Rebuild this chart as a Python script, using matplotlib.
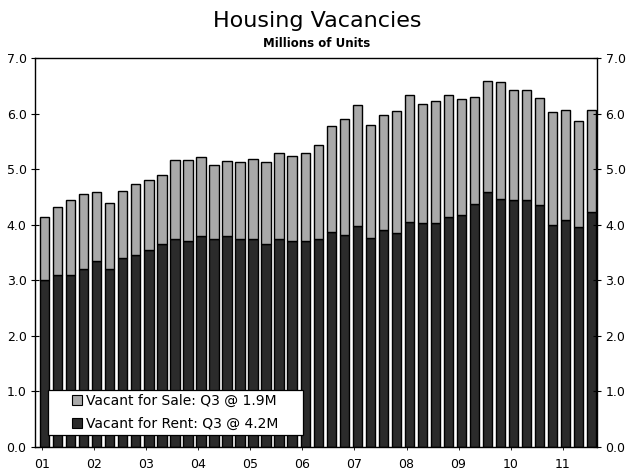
import numpy as np
import matplotlib
matplotlib.use("Agg")
import matplotlib.pyplot as plt
from matplotlib.patches import Patch, Rectangle

# quarterly, 2001 Q1 .. 2011 Q3 (millions of units)
years = ["01", "02", "03", "04", "05", "06", "07", "08", "09", "10", "11"]
rent = [3.00, 3.10, 3.10, 3.20, 3.35, 3.20, 3.40, 3.45, 3.55, 3.65, 3.75,
        3.70, 3.80, 3.75, 3.80, 3.75, 3.75, 3.65, 3.75, 3.70, 3.70, 3.75,
        3.87, 3.81, 3.97, 3.76, 3.90, 3.85, 4.05, 4.03, 4.03, 4.14, 4.17,
        4.38, 4.59, 4.47, 4.44, 4.44, 4.35, 3.99, 4.08, 3.96, 4.22]
sale = [1.14, 1.22, 1.35, 1.36, 1.24, 1.19, 1.20, 1.28, 1.25, 1.25, 1.41,
        1.46, 1.41, 1.32, 1.35, 1.38, 1.44, 1.48, 1.54, 1.53, 1.59, 1.68,
        1.90, 2.10, 2.19, 2.03, 2.07, 2.19, 2.29, 2.15, 2.19, 2.20, 2.09,
        1.91, 2.00, 2.10, 1.98, 1.98, 1.93, 2.04, 1.99, 1.90, 1.85]

plt.style.use('default')
fig = plt.figure(figsize=(6.34, 4.75), dpi=100)
ax = fig.add_axes([0.055, 0.059, 0.887, 0.819])

x = np.arange(len(rent))
ax.bar(x, rent, width=0.7, color="#2b2b2b", edgecolor="black", lw=1.0)
ax.bar(x, sale, bottom=rent, width=0.7, color="#a9a9a9", edgecolor="black", lw=1.0)

ax.set_xlim(-0.77, 42.46)
ax.set_ylim(0, 7)
yt = np.arange(0, 7.1, 1.0)
ax.set_yticks(yt)
ax.set_yticklabels(["%.1f" % v for v in yt])
ax.tick_params("y", which="major", direction="inout", length=6, width=0.8,
               labelsize=9, left=True, right=True, labelleft=True, labelright=True, pad=3)
ax.set_xticks([4 * i - 0.2 for i in range(len(years))])
ax.set_xticklabels(years)
ax.tick_params("x", which="major", direction="out", length=2, width=0.6, labelsize=9, pad=6)
for s in ax.spines.values():
    s.set_linewidth(1.0)

fig.text(0.5, 0.956, "Housing Vacancies", ha="center", va="center", fontsize=16)
fig.text(0.5, 0.908, "Millions of Units", ha="center", va="center", fontsize=8.5, fontweight="bold")

# legend box drawn over the bars
box = (0.023, 0.031, 0.454, 0.116)
ax.add_patch(Rectangle(box[:2], box[2], box[3], transform=ax.transAxes,
                       facecolor="white", edgecolor="black", lw=0.9, zorder=5))
handles = [Patch(facecolor="#a9a9a9", edgecolor="black", lw=0.8),
           Patch(facecolor="#2b2b2b", edgecolor="black", lw=0.8)]
leg = ax.legend(handles, ["Vacant for Sale: Q3 @ 1.9M", "Vacant for Rent: Q3 @ 4.2M"],
                loc="center", bbox_to_anchor=box, fontsize=10, frameon=False,
                handlelength=0.7, handleheight=0.7, handletextpad=0.3,
                borderaxespad=0, labelspacing=0.6, borderpad=0)
leg.set_zorder(6)

fig.savefig("out.png", dpi=100)
